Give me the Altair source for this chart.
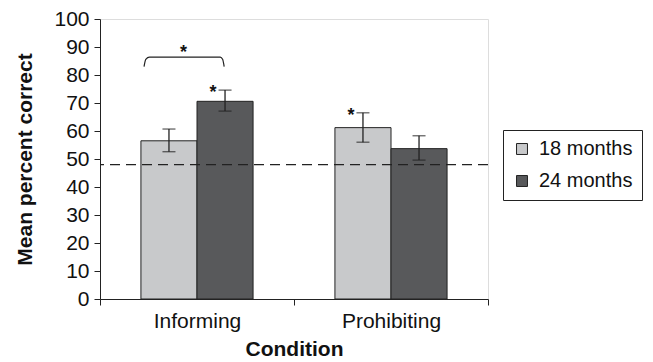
import altair as alt
import pandas as pd

conditions = ["Informing", "Informing", "Prohibiting", "Prohibiting"]
groups = ["18 months", "24 months", "18 months", "24 months"]
means = [56.5, 70.6, 61.2, 53.7]
err_low = [52.6, 67.1, 56.0, 49.6]
err_high = [60.7, 74.6, 66.5, 58.3]
chance_level = [48]

star_conditions = ["Informing", "Prohibiting"]
star_groups = ["24 months", "18 months"]
star_y = [74.6, 66.5]

bracket_x = [0.227, 0.236, 0.255, 0.62, 0.632, 0.640]
bracket_y = [83.0, 85.6, 86.4, 86.4, 85.6, 83.0]
bracket_star_x = [0.43]
bracket_star_y = [86.4]

df = pd.DataFrame({"Condition": conditions, "Group": groups, "Mean": means,
                   "lo": err_low, "hi": err_high})
stars = pd.DataFrame({"Condition": star_conditions, "Group": star_groups, "y": star_y})
chance = pd.DataFrame({"y": chance_level})
bracket = pd.DataFrame({"bx": bracket_x, "by": bracket_y, "order": list(range(len(bracket_x)))})
bstar = pd.DataFrame({"bx": bracket_star_x, "by": bracket_star_y})

FONT = "Liberation Sans"
W, H = 388, 280

xenc = alt.X("Condition:N", title="Condition",
             scale=alt.Scale(paddingInner=0, paddingOuter=0),
             axis=alt.Axis(labelAngle=0, tickBand="extent", labelFontSize=21,
                           labelColor="#111", titleFontSize=21, titleFontWeight="bold",
                           titleColor="#111", titlePadding=7, labelPadding=5,
                           domainColor="#222", tickColor="#222", tickSize=6,
                           labelFont=FONT, titleFont=FONT))
yscale = alt.Scale(domain=[0, 100], nice=False)
yaxis = alt.Axis(values=list(range(0, 101, 10)), labelFontSize=21, labelColor="#111",
                 titleFontSize=21, titleFontWeight="bold", titleColor="#111",
                 title="Mean percent correct", grid=False, domainColor="#222",
                 tickColor="#222", tickSize=6, labelPadding=5, titlePadding=18,
                 labelFont=FONT, titleFont=FONT, labelOverlap=False)
xoff = alt.XOffset("Group:N", scale=alt.Scale(paddingOuter=0.73, paddingInner=0))

bars = alt.Chart(df).mark_bar(stroke="#222", strokeWidth=1).encode(
    x=xenc,
    xOffset=xoff,
    y=alt.Y("Mean:Q", scale=yscale, axis=yaxis),
    color=alt.Color("Group:N", title=None,
                    scale=alt.Scale(domain=["18 months", "24 months"],
                                    range=["#c8c9cb", "#58595b"]),
                    legend=alt.Legend(orient="none", legendX=403, legendY=111,
                                      symbolType="square", symbolSize=120,
                                      symbolStrokeColor="#222", symbolStrokeWidth=1,
                                      labelFontSize=20, labelFont=FONT, labelColor="#111",
                                      strokeColor="#222", padding=9, rowPadding=12,
                                      labelOffset=7, cornerRadius=0,
                                      fillColor="white")),
)

chance_rule = alt.Chart(chance).mark_rule(color="#222", strokeDash=[10, 6], strokeWidth=1.2).encode(
    y=alt.Y("y:Q", scale=yscale, axis=yaxis)
)

err = alt.Chart(df).mark_rule(color="#222", strokeWidth=1.3).encode(
    x=alt.X("Condition:N"), xOffset=xoff,
    y=alt.Y("lo:Q", scale=yscale, axis=yaxis), y2="hi:Q",
)
cap_lo = alt.Chart(df).mark_tick(color="#222", thickness=1.3, size=13).encode(
    x=alt.X("Condition:N"), xOffset=xoff, y=alt.Y("lo:Q", scale=yscale, axis=yaxis),
)
cap_hi = alt.Chart(df).mark_tick(color="#222", thickness=1.3, size=13).encode(
    x=alt.X("Condition:N"), xOffset=xoff, y=alt.Y("hi:Q", scale=yscale, axis=yaxis),
)
star_marks = alt.Chart(stars).mark_text(text="*", fontSize=18, fontWeight="bold",
                                        font=FONT, color="#111", dx=-12, dy=3).encode(
    x=alt.X("Condition:N"), xOffset=xoff, y=alt.Y("y:Q", scale=yscale, axis=yaxis),
)

bx_scale = alt.Scale(domain=[0, 2], nice=False)
bracket_line = alt.Chart(bracket).mark_line(color="#222", strokeWidth=1.2,
                                            interpolate="monotone").encode(
    x=alt.X("bx:Q", scale=bx_scale, axis=None),
    y=alt.Y("by:Q", scale=yscale, axis=yaxis),
    order="order:Q",
)
bracket_star = alt.Chart(bstar).mark_text(text="*", fontSize=18, fontWeight="bold",
                                          font=FONT, color="#111", dy=-4).encode(
    x=alt.X("bx:Q", scale=bx_scale, axis=None),
    y=alt.Y("by:Q", scale=yscale, axis=yaxis),
)

main = alt.layer(bars, chance_rule, err, cap_lo, cap_hi, star_marks)
over = alt.layer(bracket_line, bracket_star)

chart = alt.layer(main, over).resolve_scale(x="independent").properties(
    width=W, height=H,
    autosize=alt.AutoSizeParams(type="none"),
    padding={"left": 92, "top": 11, "right": 157, "bottom": 62},
).configure_view(stroke="#555", strokeWidth=1).configure(background="white")

chart.save("out.html", embed_options={"renderer": "svg", "actions": False})
